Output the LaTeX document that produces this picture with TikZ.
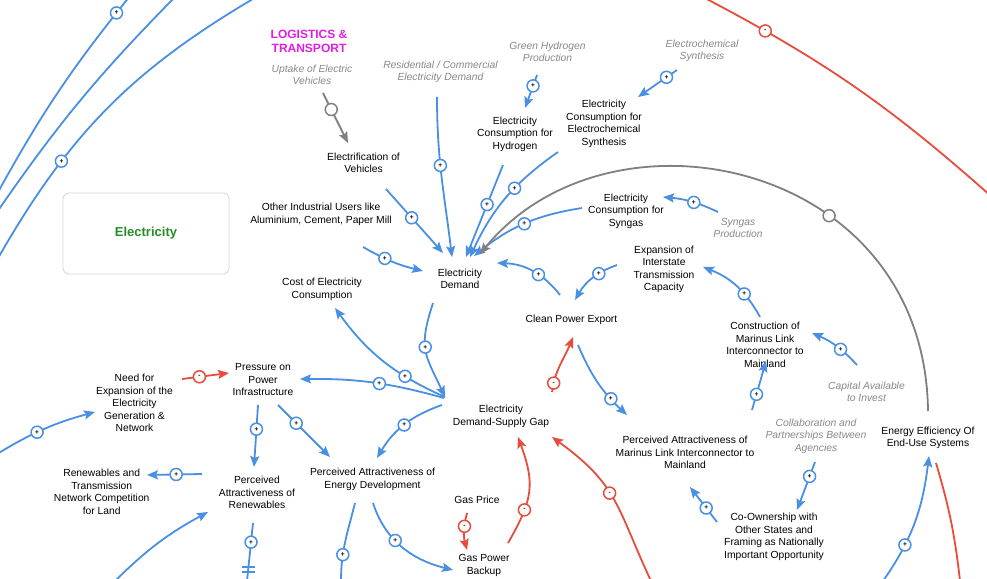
\documentclass[tikz,border=0pt]{standalone}
\usepackage{fontspec}
\setmainfont{Liberation Sans}
\usetikzlibrary{arrows.meta,calc}
\definecolor{lnkblue}{RGB}{74,144,226}
\definecolor{lnkred}{RGB}{231,76,60}
\definecolor{lnkgray}{RGB}{128,128,128}
\definecolor{extgray}{RGB}{136,136,136}
\definecolor{sectmag}{RGB}{226,30,226}
\definecolor{sectgreen}{RGB}{38,140,38}
\definecolor{boxgray}{RGB}{214,214,214}
\begin{document}
\begin{tikzpicture}[x=1pt,y=1pt,>={Stealth[length=11pt,width=9pt,inset=2pt]},
  var/.style={align=center,inner sep=0pt,font=\fontsize{10.3}{12.5}\selectfont},
  ext/.style={var,text=extgray,font=\fontsize{10.3}{12.5}\selectfont\itshape},
  lnkb/.style={draw=lnkblue,line width=1.8pt,->},
  lnkr/.style={draw=lnkred,line width=1.8pt,->},
  lnkg/.style={draw=lnkgray,line width=1.8pt,->},
  sgnb/.style={circle,draw=lnkblue,fill=white,line width=1.5pt,minimum size=12pt,inner sep=0pt,font=\fontsize{6.5}{6.5}\selectfont\bfseries},
  sgnr/.style={sgnb,draw=lnkred},
  gcirc/.style={sgnb,draw=lnkgray}]
\fill[white] (0,0) rectangle (987,-578);
\clip (0,0) rectangle (987,-578);
% Sector labels
\node[align=center,inner sep=0pt,text=sectmag,font=\fontsize{12}{14}\selectfont\bfseries] (lt) at (309,-41) {LOGISTICS \&\\TRANSPORT};
\node[draw=boxgray,line width=0.8pt,rounded corners=6pt,minimum width=166pt,minimum height=81pt,text=sectgreen,font=\fontsize{13}{15}\selectfont\bfseries] (elec) at (146,-233.5) {Electricity};
% External factors
\node[ext] (uev) at (312,-75) {Uptake of Electric\\Vehicles};
\node[ext] (rcd) at (440.5,-72) {Residential / Commercial\\Electricity Demand};
\node[ext] (ghp) at (547.5,-52) {Green Hydrogen\\Production};
\node[ext] (ecs) at (702,-51) {Electrochemical\\Synthesis};
\node[ext] (sgp) at (738,-228) {Syngas\\Production};
\node[ext] (cap) at (866.5,-392) {Capital Available\\to Invest};
\node[ext] (cpa) at (816,-436) {Collaboration and\\Partnerships Between\\Agencies};
% Variables
\node[var] (elv) at (363.5,-163) {Electrification of\\Vehicles};
\node[var] (ech) at (515,-134) {Electricity\\Consumption for\\Hydrogen};
\node[var] (ecc) at (604,-124) {Electricity\\Consumption for\\Electrochemical\\Synthesis};
\node[var] (oiu) at (321,-214.5) {Other Industrial Users like\\Aluminium, Cement, Paper Mill};
\node[var] (ecg) at (626,-211) {Electricity\\Consumption for\\Syngas};
\node[var] (dem) at (460,-279) {Electricity\\Demand};
\node[var] (cost) at (322,-289.5) {Cost of Electricity\\Consumption};
\node[var] (eitc) at (664,-269.5) {Expansion of\\Interstate\\Transmission\\Capacity};
\node[var] (cpe) at (571.5,-320) {Clean Power Export};
\node[var] (cml) at (765,-345) {Construction of\\Marinus Link\\Interconnector to\\Mainland};
\node[var] (need) at (134.5,-403) {Need for\\Expansion of the\\Electricity\\Generation \&\\Network};
\node[var] (ppi) at (263,-380) {Pressure on\\Power\\Infrastructure};
\node[var] (gap) at (501,-416.5) {Electricity\\Demand-Supply Gap};
\node[var] (eeu) at (928,-438) {Energy Efficiency Of\\End-Use Systems};
\node[var] (pam) at (685,-452.5) {Perceived Attractiveness of\\Marinus Link Interconnector to\\Mainland};
\node[var] (rcl) at (101.7,-492) {Renewables and\\Transmission\\Network Competition\\for Land};
\node[var] (par) at (257,-492.5) {Perceived\\Attractiveness of\\Renewables};
\node[var] (paed) at (372.5,-479.5) {Perceived Attractiveness of\\Energy Development};
\node[var] (gpr) at (477,-500) {Gas Price};
\node[var] (gpb) at (484,-565.5) {Gas Power\\Backup};
\node[var] (cos) at (774,-537) {Co-Ownership with\\Other States and\\Framing as Nationally\\Important Opportunity};
% Free ends of the loops that leave the picture
\coordinate (la1) at (-3,-194); \coordinate (la2) at (130,4);
\coordinate (lb1) at (-5,-215); \coordinate (lb2) at (176,4);
\coordinate (lc1) at (-3,-260); \coordinate (lc2) at (258,4);
\coordinate (rt1) at (701,4);   \coordinate (rt2) at (992,-197);
\coordinate (bl1) at (-3,-454); \coordinate (bl2) at (115,-581);
\coordinate (bp1) at (247,-581); \coordinate (bp2) at (341,-581);
\coordinate (bg1) at (651,-581); \coordinate (be1) at (883,-581);
\coordinate (be2) at (960,-581);
\draw[lnkb,-] (la1) to[bend left=5] node[sgnb,pos=.92]{+} (la2);
\draw[lnkb,-] (lb1) to[bend left=5] (lb2);
\draw[lnkb,-] (lc1) to[bend left=15] node[sgnb,pos=.3]{+} (lc2);
\draw[lnkr,-] (rt1) to[bend left=7] node[sgnr,pos=.19]{-} (rt2);
% Demand side
\draw[lnkg] ($(uev)+(11,-18)$) -- node[gcirc,pos=.33]{} ($(elv)+(-15.5,20)$);
\draw[lnkb] ($(rcd)+(-3.5,-25)$) to[out=-90,in=97] node[sgnb,pos=.42]{+} ($(dem)+(-8,22)$);
\draw[lnkb] ($(elv)+(22.5,-26)$) -- node[sgnb,pos=.45]{+} ($(dem)+(-17,26)$);
\draw[lnkb] ($(oiu)+(42,-32.5)$) to[bend right=8] node[sgnb,pos=.37]{+} ($(dem)+(-37,8)$);
\draw[lnkb] ($(ech)+(-12,-31)$) -- node[sgnb,pos=.43]{+} ($(dem)+(6,22)$);
\draw[lnkb] ($(ecc)+(-46,-28)$) to[bend right=15] node[sgnb,pos=.4]{+} ($(dem)+(10,22)$);
\draw[lnkb] ($(ecg)+(-44,3)$) to[bend right=15] node[sgnb,pos=.5]{+} ($(dem)+(14,23)$);
\draw[lnkg] ($(eeu)+(0,27)$) .. controls +(-3,251) and +(130,159) .. ($(dem)+(20,25)$) node[gcirc,pos=.355]{};
\draw[lnkb] ($(ghp)+(-10.5,-23)$) -- node[sgnb,pos=.33]{+} ($(ech)+(10,26)$);
\draw[lnkb] ($(ecs)+(-25,-19)$) -- node[sgnb,pos=.27]{+} ($(ecc)+(34,27)$);
\draw[lnkb] ($(sgp)+(-20,16)$) to[bend right=10] node[sgnb,pos=.45]{+} ($(ecg)+(37,14)$);
% Export and interconnector
\draw[lnkb] ($(cpe)+(-11.5,25)$) to[bend right=25] node[sgnb,pos=.4]{+} ($(dem)+(37,16)$);
\draw[lnkb] ($(eitc)+(-47,4.5)$) to[bend right=20] node[sgnb,pos=.35]{+} ($(cpe)+(3.5,20)$);
\draw[lnkb] ($(cml)+(-5,28)$) to[bend right=20] node[sgnb,pos=.35]{+} ($(eitc)+(39,2.5)$);
\draw[lnkb] ($(cap)+(-9.5,27)$) to[bend right=12] node[sgnb,pos=.4]{+} ($(cml)+(47,12)$);
\draw[lnkb] ($(pam)+(67,42.5)$) -- node[sgnb,pos=.32]{+} ($(cml)+(1,-16)$);
\draw[lnkb] ($(cos)+(-57,15)$) -- node[sgnb,pos=.4]{+} ($(pam)+(5,-34.5)$);
\draw[lnkb] ($(cpa)+(-1,-26)$) -- node[sgnb,pos=.3]{+} ($(cos)+(23,27)$);
\draw[lnkb] ($(cpe)+(6.5,-25)$) to[bend right=12] node[sgnb,pos=.75]{+} ($(pam)+(-58,37.5)$);
\draw[lnkr] ($(gap)+(51,24.5)$) to[out=82,in=-112] node[sgnr,pos=.14]{-} ($(cpe)+(1.5,-17)$);
% Supply gap
\draw[lnkb] ($(dem)+(-27,-24)$) to[out=-108,in=115,looseness=1.3] node[sgnb,pos=.45]{+} ($(gap)+(-56,19.5)$);
\draw[lnkb] ($(gap)+(-56,19.5)$) to[bend left=15] node[sgnb,pos=.3]{+} ($(cost)+(13,-18.5)$);
\draw[lnkb] ($(gap)+(-57,18.5)$) to[bend right=8] node[sgnb,pos=.45]{+} ($(ppi)+(37,1)$);
\draw[lnkr] ($(need)+(47.5,24)$) -- node[sgnr,pos=.37]{-} ($(ppi)+(-34,7)$);
\draw[lnkb] (bl1) to[bend left=8] node[sgnb,pos=.42]{+} ($(need)+(-39.5,-9)$);
\draw[lnkb] ($(ppi)+(-5,-25)$) -- node[sgnb,pos=.39]{+} ($(par)+(-3,25.5)$);
\draw[lnkb] ($(ppi)+(15,-25)$) -- node[sgnb,pos=.35]{+} ($(paed)+(-42.5,22.5)$);
\draw[lnkb] ($(gap)+(-59,11.5)$) to[bend right=20] node[sgnb,pos=.5]{+} ($(paed)+(4.5,21.5)$);
\draw[lnkb] ($(par)+(-55,18.5)$) -- node[sgnb,pos=.47]{+} ($(rcl)+(45.3,17)$);
\draw[lnkb] (bl2) to[bend left=8] ($(par)+(-49,-19.5)$);
\draw[lnkb,-] ($(par)+(-4,-30.5)$) -- node[sgnb,pos=.33]{+} (bp1);
\foreach \y in {-567,-572}{\draw[lnkb,-] (242,\y) -- (255,\y);}
\draw[lnkb,-] ($(paed)+(-17.5,-23.5)$) to[out=-104,in=90] node[sgnb,pos=.68]{+} (bp2);
\draw[lnkb] ($(paed)+(0.5,-23.5)$) to[out=-72,in=166] node[sgnb,pos=.4]{+} ($(gpb)+(-31,-4.5)$);
% Gas backup
\draw[lnkr] ($(gpr)+(-10,-13)$) to[bend right=15] node[sgnr,pos=.35]{-} ($(gpb)+(-17,15.5)$);
\draw[lnkr] ($(gpb)+(24,22.5)$) to[out=60,in=-70,looseness=1.2] node[sgnr,pos=.3]{-} ($(gap)+(17,-20.5)$);
\draw[lnkr] (bg1) to[out=115,in=-36,looseness=1.2] node[sgnr,pos=.55]{-} ($(gap)+(51,-20.5)$);
% Energy efficiency
\draw[lnkb] (be1) to[out=55,in=-97] node[sgnb,pos=.3]{+} ($(eeu)+(1,-18)$);
\draw[lnkr,-] ($(eeu)+(8,-25)$) to[bend left=5] (be2);
\end{tikzpicture}
\end{document}
